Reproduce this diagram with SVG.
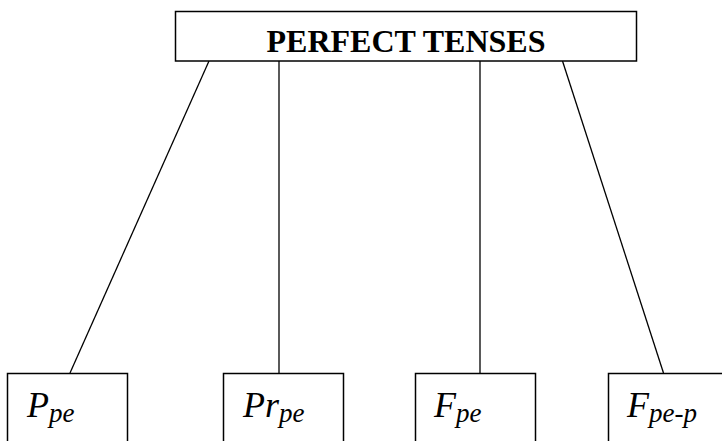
<svg xmlns="http://www.w3.org/2000/svg" width="722" height="441" viewBox="0 0 722 441">
<style>
.box{fill:#fff;stroke:#000;stroke-width:1.5}
.ln{stroke:#000;stroke-width:1.3;fill:none}
.t{font-family:"Liberation Serif","Times New Roman",serif;fill:#000}
.big{font-style:italic;font-size:36px}
.sub{font-style:italic;font-size:27px}
</style>
<rect width="722" height="441" fill="#fff"/>
<g id="connectors">
<line class="ln" x1="209" y1="61" x2="70" y2="373"/>
<line class="ln" x1="279" y1="61" x2="279" y2="373"/>
<line class="ln" x1="480" y1="61" x2="480" y2="373"/>
<line class="ln" x1="562.5" y1="61" x2="663.5" y2="373"/>
</g>
<g id="perfect-tenses">
<rect class="box" x="175.5" y="11.5" width="461" height="49.5"/>
<text class="t" x="406" y="51.5" text-anchor="middle" font-weight="bold" font-size="32">PERFECT TENSES</text>
</g>
<g id="ppe">
<rect class="box" x="7.5" y="373.5" width="120" height="80"/>
<text class="t" x="27" y="417"><tspan class="big">P</tspan><tspan class="sub" dy="5">pe</tspan></text>
</g>
<g id="prpe">
<rect class="box" x="223.5" y="373.5" width="120" height="80"/>
<text class="t" x="243" y="417"><tspan class="big">Pr</tspan><tspan class="sub" dy="5">pe</tspan></text>
</g>
<g id="fpe">
<rect class="box" x="415.5" y="373.5" width="120" height="80"/>
<text class="t" x="434" y="417"><tspan class="big">F</tspan><tspan class="sub" dy="5">pe</tspan></text>
</g>
<g id="fpep">
<rect class="box" x="608.5" y="373.5" width="130" height="80"/>
<text class="t" x="627" y="417"><tspan class="big">F</tspan><tspan class="sub" dy="5">pe-p</tspan></text>
</g>
</svg>
